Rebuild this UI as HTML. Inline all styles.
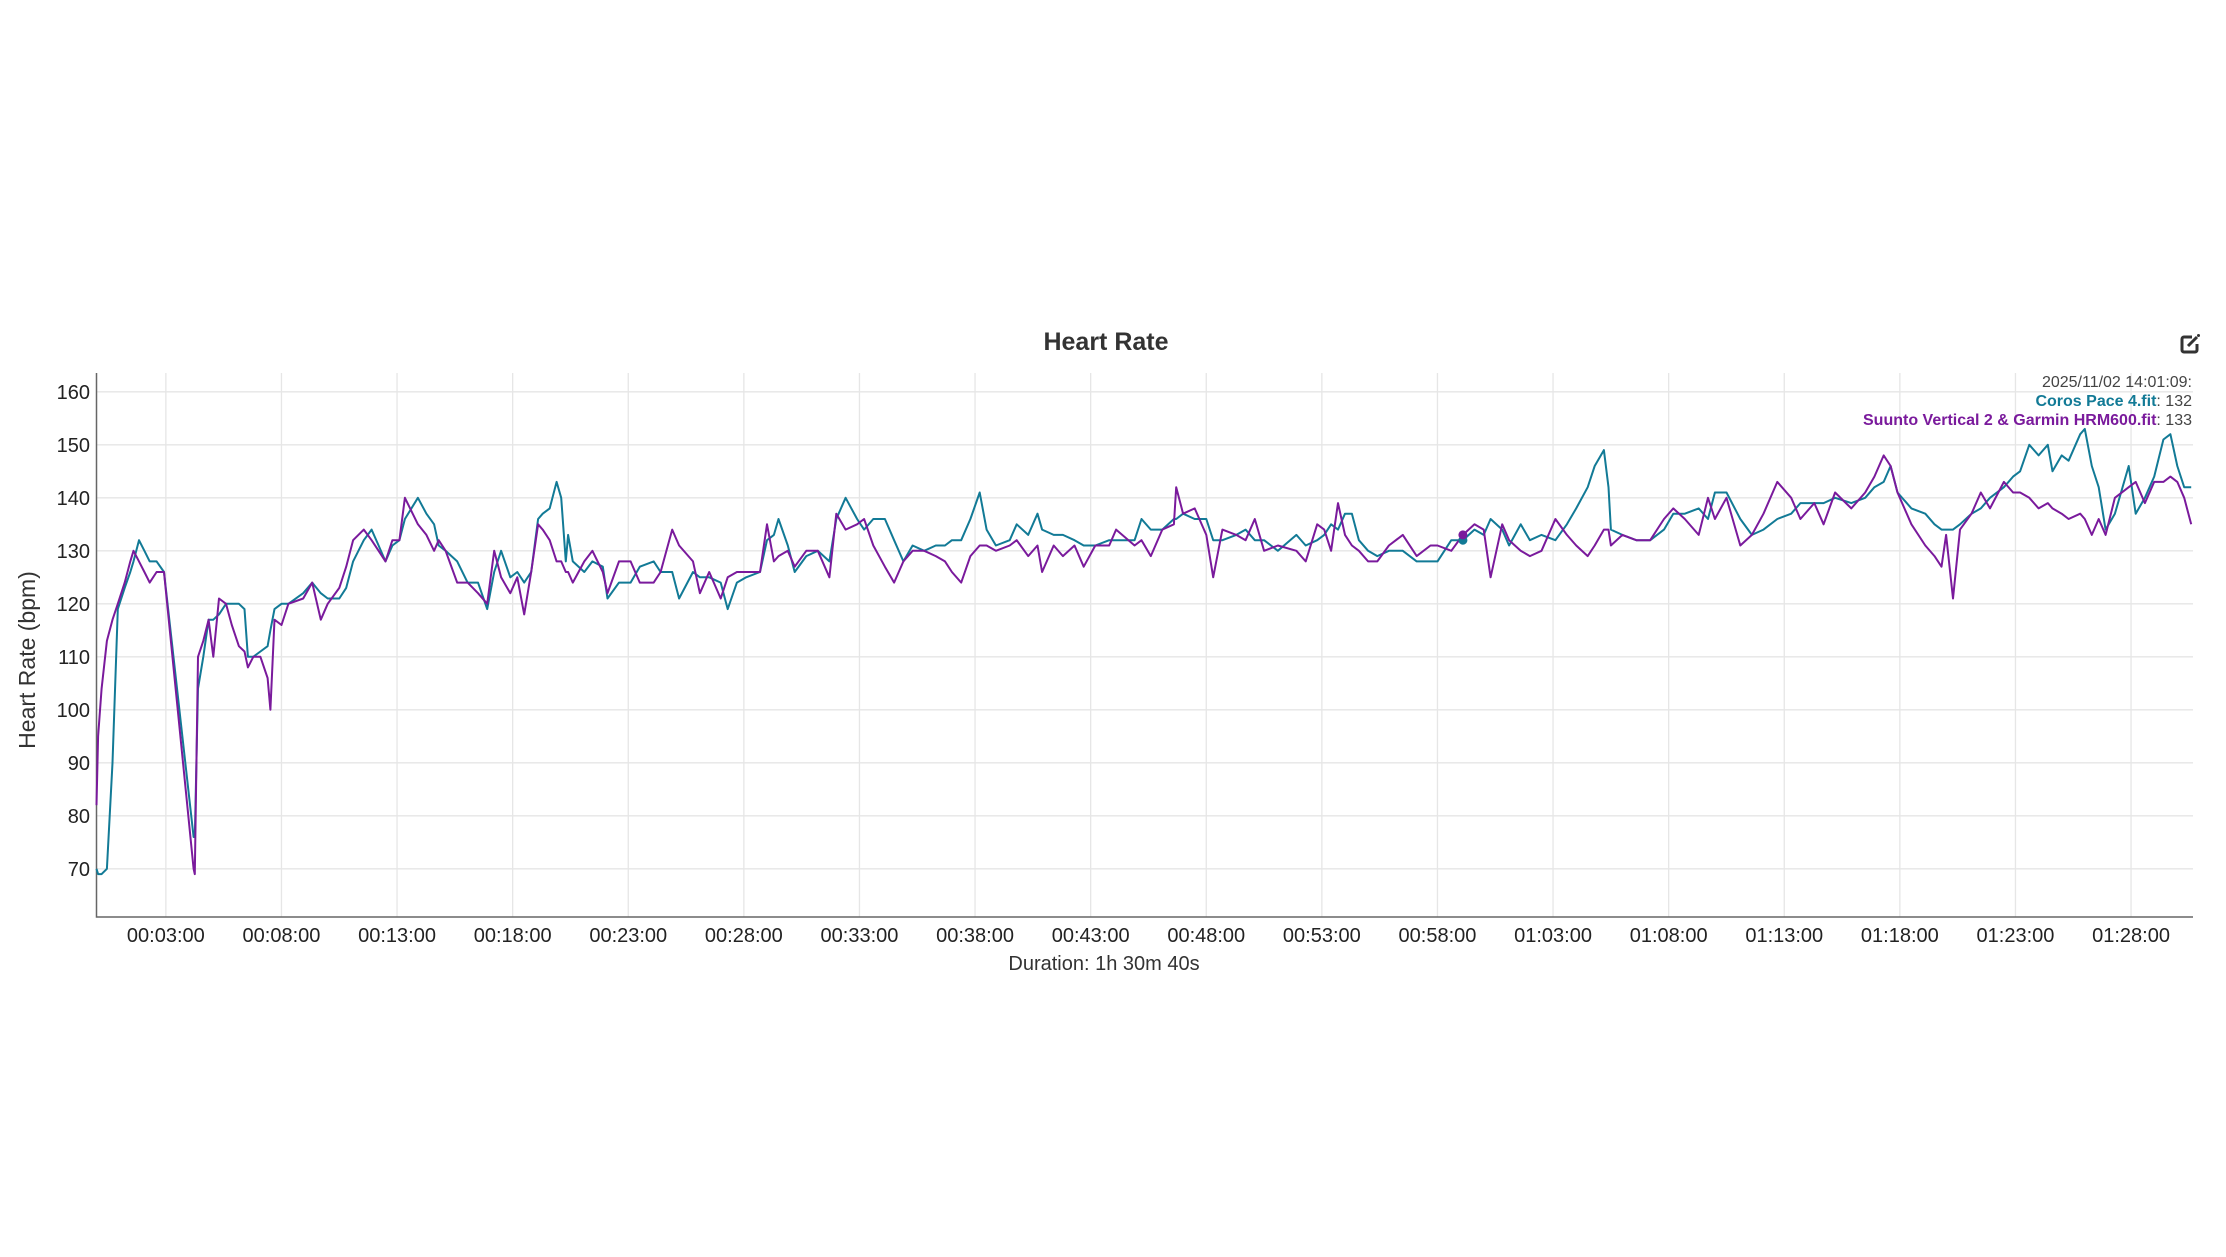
<!DOCTYPE html>
<html><head><meta charset="utf-8"><style>
html,body{margin:0;padding:0;background:#fff;}
body{width:2226px;height:1252px;overflow:hidden;font-family:"Liberation Sans",sans-serif;}
</style></head><body>
<svg id="chart" width="2226" height="1252" xmlns="http://www.w3.org/2000/svg" font-family="Liberation Sans, sans-serif">
<text x="1106" y="350" font-size="25" font-weight="bold" fill="#333" text-anchor="middle">Heart Rate</text>
<g transform="translate(2180,334)" fill="none" stroke="#333" stroke-width="3">
<path d="M12 3 H4 a2 2 0 0 0-2 2 V16 a2 2 0 0 0 2 2 H15 a2 2 0 0 0 2-2 V10"/>
<path d="M8 12 L17 3" stroke-width="3"/>
<circle cx="18.5" cy="1.5" r="1.5" fill="#333" stroke="none"/>
</g>
<g id="grid"></g>
<g id="axes"></g>
<g id="series"></g>
<text transform="translate(35,660) rotate(-90)" font-size="23" fill="#333" text-anchor="middle">Heart Rate (bpm)</text>
<text x="1104" y="970" font-size="20" fill="#333" text-anchor="middle">Duration: 1h 30m 40s</text>
<g font-size="16" text-anchor="end">
<text x="2192" y="387" fill="#444">2025/11/02 14:01:09:</text>
<text x="2192" y="406" fill="#444"><tspan font-weight="bold" fill="#127a96">Coros Pace 4.fit</tspan>: 132</text>
<text x="2192" y="425" fill="#444"><tspan font-weight="bold" fill="#7a1a9c">Suunto Vertical 2 &amp; Garmin HRM600.fit</tspan>: 133</text>
</g>
</svg>
<script>
const minutes=[0,0.07,0.22,0.45,0.69,0.92,1.22,1.46,1.6,1.84,2.07,2.3,2.6,2.92,4.2,4.25,4.39,4.62,4.85,5.05,5.3,5.6,5.85,6.16,6.4,6.55,6.78,7.09,7.4,7.52,7.7,8.0,8.3,8.94,9.33,9.7,10.0,10.5,10.8,11.1,11.56,11.9,12.2,12.5,12.8,13.1,13.34,13.9,14.27,14.6,14.8,15.1,15.6,16.05,16.5,16.9,17.2,17.5,17.9,18.2,18.5,18.8,19.1,19.3,19.6,19.9,20.1,20.3,20.4,20.6,21.1,21.45,21.9,22.1,22.6,23.1,23.5,24.1,24.4,24.9,25.2,25.8,26.1,26.5,27.0,27.3,27.7,28.1,28.7,29.0,29.3,29.5,29.9,30.2,30.7,31.2,31.7,32.0,32.4,32.9,33.2,33.6,34.1,34.5,34.9,35.3,35.8,36.3,36.7,37.0,37.4,37.8,38.2,38.5,38.9,39.5,39.8,40.3,40.7,40.9,41.4,41.8,42.3,42.7,43.2,43.8,44.1,44.9,45.2,45.6,46.1,46.6,46.7,47.0,47.5,48.0,48.3,48.7,49.3,49.7,50.1,50.5,51.1,51.9,52.3,52.8,53.1,53.4,53.7,54.0,54.3,54.6,55.0,55.4,55.9,56.5,57.1,57.7,58.0,58.6,59.1,59.6,60.0,60.3,60.8,61.1,61.6,62.0,62.5,63.1,63.6,64.0,64.5,64.8,65.2,65.4,65.5,66.0,66.6,67.2,67.8,68.2,68.7,69.3,69.7,70.0,70.5,71.1,71.6,72.1,72.7,73.3,73.7,74.3,74.7,75.2,75.9,76.5,76.9,77.3,77.6,77.9,78.5,79.1,79.5,79.8,80.0,80.3,80.6,81.1,81.5,81.9,82.5,82.9,83.2,83.6,84.0,84.4,84.6,85.0,85.3,85.8,86.0,86.3,86.6,86.9,87.3,87.9,88.2,88.6,89.0,89.4,89.7,90.0,90.3,90.6];
const coros=[70,69,69,70,90,119,123,126,128,132,130,128,128,126,76,76,104,110,117,117,118,120,120,120,119,110,110,111,112,115,119,120,120,122,124,122,121,121,123,128,132,134,131,128,131,132,136,140,137,135,131,130,128,124,124,119,126,130,125,126,124,126,136,137,138,143,140,128,133,128,126,128,127,121,124,124,127,128,126,126,121,126,125,125,124,119,124,125,126,132,133,136,131,126,129,130,128,136,140,136,134,136,136,132,128,131,130,131,131,132,132,136,141,134,131,132,135,133,137,134,133,133,132,131,131,132,132,132,136,134,134,136,136,137,136,136,132,132,133,134,132,132,130,133,131,132,133,135,134,137,137,132,130,129,130,130,128,128,128,132,132,134,133,136,134,131,135,132,133,132,135,138,142,146,149,142,134,133,132,132,134,137,137,138,136,141,141,136,133,134,136,137,139,139,139,140,139,140,142,143,146,141,138,137,135,134,134,134,135,137,138,140,142,144,145,150,148,150,145,148,147,152,153,146,142,134,137,146,137,140,144,151,152,146,142,142];
const suunto=[82,95,104,113,117,120,124,128,130,128,126,124,126,126,70,69,110,113,117,110,121,120,116,112,111,108,110,110,106,100,117,116,120,121,124,117,120,123,127,132,134,132,130,128,132,132,140,135,133,130,132,130,124,124,122,120,130,125,122,125,118,126,135,134,132,128,128,126,126,124,128,130,126,122,128,128,124,124,126,134,131,128,122,126,121,125,126,126,126,135,128,129,130,127,130,130,125,137,134,135,136,131,127,124,128,130,130,129,128,126,124,129,131,131,130,131,132,129,131,126,131,129,131,127,131,131,134,131,132,129,134,135,142,137,138,133,125,134,133,132,136,130,131,130,128,135,134,130,139,133,131,130,128,128,131,133,129,131,131,130,133,135,134,125,135,132,130,129,130,136,133,131,129,131,134,134,131,133,132,132,136,138,136,133,140,136,140,131,133,137,143,140,136,139,135,141,138,141,144,148,146,141,135,131,129,127,133,121,134,137,141,138,143,141,141,140,138,139,138,137,136,137,136,133,136,133,140,142,143,139,143,143,144,143,140,135];
const yTicks=[70,80,90,100,110,120,130,140,150,160];
const xTickMinutes=[3,8,13,18,23,28,33,38,43,48,53,58,63,68,73,78,83,88];
const hoverMinute=59.1, hoverCoros=132, hoverSuunto=133;

const X0=96.5, PXMIN=23.12, XR=2193, YT=373, YB=917;
function xs(m){return X0+m*PXMIN;}
function ys(v){return 391.8+(160-v)*5.3;}
function fmt(m){const h=Math.floor(m/60),mm=m%60;return String(h).padStart(2,'0')+':'+String(mm).padStart(2,'0')+':00';}
const NS='http://www.w3.org/2000/svg';
function mk(tag,attrs,parent){const e=document.createElementNS(NS,tag);for(const k in attrs)e.setAttribute(k,attrs[k]);parent.appendChild(e);return e;}
const grid=document.getElementById('grid'),axes=document.getElementById('axes'),series=document.getElementById('series');
yTicks.forEach(v=>{
  const l=mk('line',{x1:X0,x2:XR,y1:ys(v),y2:ys(v),stroke:'#e6e6e6','stroke-width':1.3},grid);
  
  
  const t=mk('text',{x:90,y:ys(v)+7,'font-size':20,fill:'#222','text-anchor':'end'},axes);
  t.textContent=v;
  
  
});
xTickMinutes.forEach(m=>{
  const l=mk('line',{x1:xs(m),x2:xs(m),y1:YT,y2:YB,stroke:'#e6e6e6','stroke-width':1.3},grid);
  
  
  const t=mk('text',{x:xs(m),y:942,'font-size':20,fill:'#222','text-anchor':'middle'},axes);
  t.textContent=fmt(m);
  
  
});
const ax=mk('path',{d:`M${X0} ${YT} V${YB} H${XR}`,fill:'none',stroke:'#666','stroke-width':1.5},axes);


function line(vals,color,name){
  const d=vals.map((v,i)=>(i?'L':'M')+xs(minutes[i]).toFixed(1)+' '+ys(v).toFixed(1)).join(' ');
  const p=mk('path',{d:d,fill:'none',stroke:color,'stroke-width':2,'stroke-linejoin':'round'},series);
  
  
}
line(coros,'#127a96','coros-line');
line(suunto,'#7a1a9c','suunto-line');
const c1=mk('circle',{cx:xs(hoverMinute),cy:ys(hoverCoros),r:4.5,fill:'#127a96'},series);


const c2=mk('circle',{cx:xs(hoverMinute),cy:ys(hoverSuunto),r:4.5,fill:'#7a1a9c'},series);


</script>
</body></html>
